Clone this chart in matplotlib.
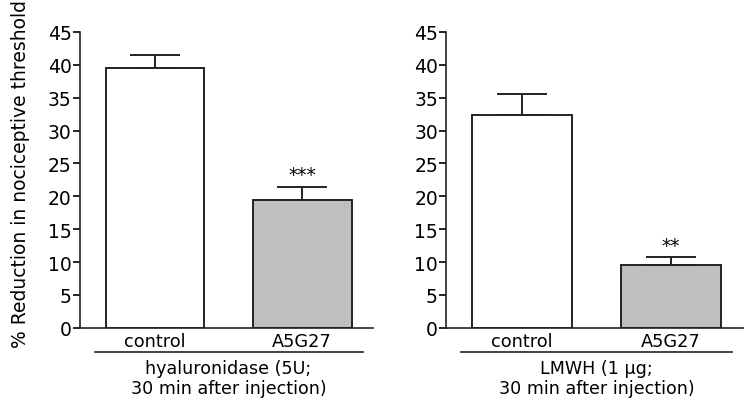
import matplotlib.pyplot as plt
import matplotlib.transforms as mtransforms

plt.rcParams['font.family'] = ['DejaVu Sans']

groups = ['control', 'A5G27']
hyal_means = [39.5, 19.4]
hyal_sem = [2.0, 2.0]
lmwh_means = [32.3, 9.6]
lmwh_sem = [3.2, 1.1]
hyal_stars = ['', '***']
lmwh_stars = ['', '**']
yticks = [0, 5, 10, 15, 20, 25, 30, 35, 40, 45]
bar_colors = ['white', '#bfbfbf']

panels = [
    (hyal_means, hyal_sem, hyal_stars, 'hyaluronidase (5U;\n30 min after injection)'),
    (lmwh_means, lmwh_sem, lmwh_stars, 'LMWH (1 \u00b5g;\n30 min after injection)'),
]

fig = plt.figure(figsize=(7.5, 4.06), dpi=100)
axes = [fig.add_axes([0.1067, 0.19, 0.3907, 0.729]),
        fig.add_axes([0.595, 0.19, 0.395, 0.729])]

for ax, (means, sem, stars, group_label) in zip(axes, panels):
    x = range(len(groups))
    ax.bar(x, means, width=0.673, color=bar_colors, edgecolor='#222222',
           linewidth=1.4, zorder=2)
    ax.errorbar(x, means, yerr=[[0] * len(sem), sem], fmt='none',
                ecolor='#222222', elinewidth=1.4, capsize=18, capthick=1.4,
                zorder=1)
    for xi, m, s, st in zip(x, means, sem, stars):
        if st:
            ax.annotate(st, (xi, m + s), xytext=(0, 2), textcoords='offset points',
                        ha='center', va='bottom', fontsize=13.5)
    ax.set_ylim(0, 45)
    ax.set_xlim(-0.51, 1.483)
    ax.set_yticks(yticks)
    ax.set_xticks(list(x))
    ax.set_xticklabels(groups)
    ax.tick_params(axis='x', length=0, pad=3, labelsize=12.8)
    ax.tick_params(axis='y', length=5, width=1.2, pad=1, labelsize=13.5,
                   direction='out')
    for side in ['top', 'right']:
        ax.spines[side].set_visible(False)
    for side in ['left', 'bottom']:
        ax.spines[side].set_linewidth(1.2)
        ax.spines[side].set_color('#222222')

    trans = mtransforms.blended_transform_factory(ax.transData, ax.transAxes)
    ax.plot([-0.41, 1.415], [-0.08, -0.08], color='#222222', lw=1.2,
            transform=trans, clip_on=False)
    ax.text(0.5, -0.106, group_label, transform=trans, ha='center', va='top',
            fontsize=12.6, linespacing=1.12)

fig.text(0.027, 0.571, '% Reduction in nociceptive threshold', rotation=90,
         ha='center', va='center', fontsize=13.5)

fig.savefig('out.png', dpi=100)
